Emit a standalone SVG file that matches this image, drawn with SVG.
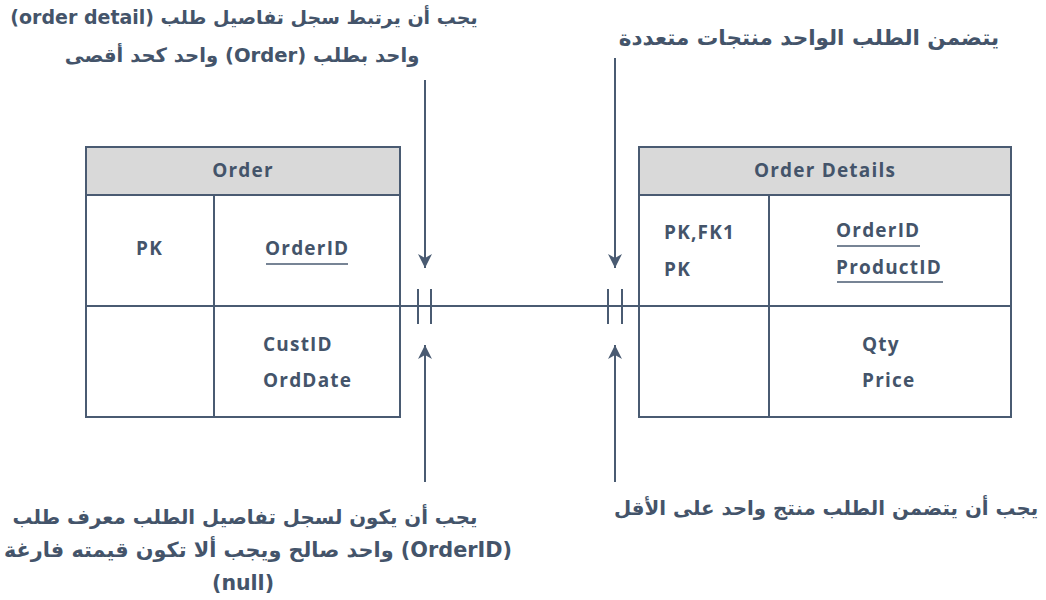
<svg xmlns="http://www.w3.org/2000/svg" width="1046" height="600" viewBox="0 0 1046 600">
<defs>
<style>
.box{fill:#fff;stroke:#4a5b72;stroke-width:2}
.hdr{fill:#d9d9d9;stroke:#4a5b72;stroke-width:2}
.ln{stroke:#4a5b72;stroke-width:2;fill:none}
.t{font-family:"Open Sans",Roboto,"DejaVu Sans",sans-serif;font-weight:700;font-size:19px;fill:#44546a;letter-spacing:1.2px}
.ar{font-family:"DejaVu Sans","Noto Sans",sans-serif;fill:#44546a;direction:rtl;text-anchor:middle;font-weight:600}
.u{stroke:#4a5b72;stroke-width:1.5}
</style>
<marker id="ah2" viewBox="0 0 14 14" refX="14" refY="7" markerWidth="14" markerHeight="14" markerUnits="userSpaceOnUse" orient="auto">
<path d="M0,0 L14,7 L0,14 L4,7 Z" fill="#4a5b72"/>
</marker>
</defs>
<rect width="1046" height="600" fill="#fff"/>
<g id="order">
<rect class="box" x="86" y="147" width="314" height="270"/>
<rect class="hdr" x="86" y="147" width="314" height="48"/>
<line class="ln" x1="214" y1="195" x2="214" y2="417"/>
<line class="ln" x1="86" y1="306" x2="400" y2="306"/>
<text class="t" x="243" y="177" text-anchor="middle">Order</text>
<text class="t" x="136" y="255">PK</text>
<text class="t" x="265" y="255">OrderID</text>
<line class="u" x1="266" y1="264" x2="348" y2="264"/>
<text class="t" x="263" y="351">CustID</text>
<text class="t" x="263" y="387">OrdDate</text>
</g>
<g id="order-details">
<rect class="box" x="639" y="147" width="372" height="270"/>
<rect class="hdr" x="639" y="147" width="372" height="48"/>
<line class="ln" x1="769" y1="195" x2="769" y2="417"/>
<line class="ln" x1="639" y1="306" x2="1011" y2="306"/>
<text class="t" x="825" y="177" text-anchor="middle">Order Details</text>
<text class="t" x="664" y="239">PK,FK1</text>
<text class="t" x="664" y="276">PK</text>
<text class="t" x="836" y="237">OrderID</text>
<line class="u" x1="837" y1="246" x2="920" y2="246"/>
<text class="t" x="836" y="274">ProductID</text>
<line class="u" x1="837" y1="282" x2="943" y2="282"/>
<text class="t" x="862" y="351">Qty</text>
<text class="t" x="862" y="387">Price</text>
</g>
<g id="connectors">
<line class="ln" x1="400" y1="306" x2="639" y2="306"/>
<line class="ln" x1="418" y1="289" x2="418" y2="324"/>
<line class="ln" x1="431" y1="289" x2="431" y2="324"/>
<line class="ln" x1="608" y1="289" x2="608" y2="324"/>
<line class="ln" x1="622" y1="289" x2="622" y2="324"/>
<line class="ln" x1="425" y1="80" x2="425" y2="268" marker-end="url(#ah2)" stroke-width="1.5"/>
<line class="ln" x1="615" y1="58" x2="615" y2="268" marker-end="url(#ah2)" stroke-width="1.5"/>
<line class="ln" x1="425" y1="482" x2="425" y2="345" marker-end="url(#ah2)" stroke-width="1.5"/>
<line class="ln" x1="615" y1="482" x2="615" y2="345" marker-end="url(#ah2)" stroke-width="1.5"/>
</g>
<g id="notes">
<text class="ar" x="244" y="24" style="font-size:19px">يجب أن يرتبط سجل تفاصيل طلب (order detail)</text>
<text class="ar" x="242" y="62" style="font-size:19.6px">واحد بطلب (Order) واحد كحد أقصى</text>
<text class="ar" x="809" y="45" style="font-size:21.5px">يتضمن الطلب الواحد منتجات متعددة</text>
<text class="ar" x="245" y="524" style="font-size:19.8px">يجب أن يكون لسجل تفاصيل الطلب معرف طلب</text>
<text class="ar" x="258" y="557" style="font-size:20.8px">(OrderID) واحد صالح ويجب ألا تكون قيمته فارغة</text>
<text class="ar" x="243" y="590" style="font-size:20.5px">(null)</text>
<text class="ar" x="826" y="515" style="font-size:19.8px">يجب أن يتضمن الطلب منتج واحد على الأقل</text>
</g>
</svg>
